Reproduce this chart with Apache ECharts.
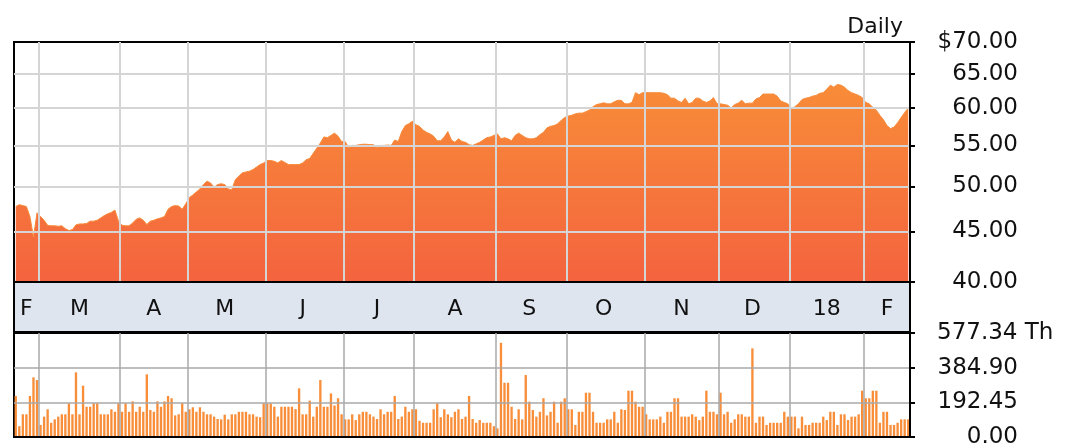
<!DOCTYPE html>
<html><head><meta charset="utf-8">
<script src="https://cdn.jsdelivr.net/npm/echarts@6/dist/echarts.min.js"></script>
<style>html,body{margin:0;padding:0;background:#fff}#c{width:1065px;height:448px}</style>
</head><body><div id="c"></div>
<script>
// ---- data ----
const monthLabels = ['F','M','A','M','J','J','A','S','O','N','D','18','F'];
const monthDays = [7,23,19,22,22,20,23,20,22,21,20,21,13];
const priceTicks = [40,45,50,55,60,65,70];
const volumeTicks = [0,192.45,384.90];
const volumeTickLabels = ['0.00','192.45','384.90'];
const volumeMax = 577.34;
const volumeMaxLabel = '577.34 Th';
const prices = [
47.7,47.9,47.8,47.7,46.6,44.4,47.0,46.6,46.2,45.65,
45.6,45.6,45.55,45.6,45.3,45.1,45.2,45.7,45.8,45.8,
45.85,46.1,46.1,46.2,46.45,46.7,46.9,47.05,47.3,46.1,
45.65,45.6,45.6,45.9,46.3,46.45,46.2,45.75,46.1,46.2,
46.35,46.45,46.6,47.4,47.7,47.8,47.75,47.4,48.0,48.7,
49.0,49.35,49.7,50.2,50.6,50.4,49.9,50.2,50.3,50.2,
49.7,49.6,50.8,51.2,51.6,51.7,51.8,52.0,52.3,52.6,
52.8,53.1,53.1,53.0,52.8,53.1,52.85,52.6,52.6,52.6,
52.6,52.8,53.2,53.35,54.0,54.65,55.3,56.1,56.0,56.3,
56.6,56.2,55.5,55.5,54.7,55.0,55.0,55.1,55.15,55.15,
55.1,55.1,54.7,55.0,55.0,55.05,55.0,55.7,55.5,56.8,
57.6,57.85,58.2,57.7,57.5,57.0,56.7,56.5,56.2,55.6,
55.6,56.1,56.8,55.7,55.4,55.85,55.5,55.4,55.1,55.0,
55.2,55.4,55.7,56.0,56.1,56.3,56.5,55.85,56.0,55.85,
55.6,56.3,56.6,56.3,56.0,55.85,55.85,56.0,56.4,56.7,
57.3,57.5,57.6,57.85,58.3,58.7,58.9,59.0,59.2,59.3,
59.3,59.5,59.75,60.2,60.5,60.6,60.75,60.6,60.6,60.9,
61.1,61.1,60.6,60.6,60.8,62.2,61.9,62.2,62.2,62.2,
62.2,62.2,62.2,62.1,61.9,61.4,61.4,61.0,60.8,61.4,
60.6,60.8,61.4,61.4,61.0,60.8,61.0,61.5,60.6,60.6,
60.5,60.4,60.0,60.5,60.7,61.1,60.6,60.7,60.7,61.3,
61.5,62.0,62.0,62.0,62.0,61.7,61.0,60.8,60.6,59.9,
60.2,60.6,61.2,61.4,61.5,61.7,61.8,62.1,62.2,62.7,
63.3,63.0,63.4,63.3,63.0,62.5,62.2,62.0,61.8,61.5,
60.8,60.6,60.1,59.7,59.0,58.4,57.6,57.2,57.4,58.0,
58.7,59.4,60.0
];
const volumes = [
228,60,126,126,228,331,316,67,113,154,
79,98,113,126,126,187,126,359,126,285,
168,168,187,187,126,126,126,154,140,187,
140,187,140,198,140,168,140,348,150,140,
198,168,198,228,215,120,126,187,140,154,
165,140,165,140,126,126,113,100,98,124,
98,126,126,140,140,140,126,126,113,110,
187,187,187,168,113,168,168,168,168,155,
270,126,126,202,113,168,316,168,168,242,
175,215,126,98,98,126,
94,126,140,140,126,113,100,154,126,140,
140,228,100,113,168,140,154,154,90,79,
79,79,154,187,110,154,126,110,140,154,
100,113,228,100,79,94,79,79,79,60,
48,523,301,301,168,100,154,98,344,196,
150,113,140,215,120,140,196,79,196,215,
154,154,67,140,140,246,246,140,79,79,
79,98,98,140,79,154,150,257,257,196,
168,168,126,98,98,98,113,79,140,140,
215,215,113,113,113,126,113,94,113,
257,140,140,126,246,126,140,79,98,126,
126,113,113,492,79,113,113,67,79,79,
79,79,140,113,113,113,48,113,67,67,
79,79,79,113,94,140,140,67,126,126,
94,113,113,126,257,215,215,257,257,79,
140,140,67,67,79,98,98,98
];

// ---- derived categories ----
const days = [];
const monthStart = new Set();
const monthMid = {};
let idx = 0;
monthDays.forEach((n, m) => {
  monthStart.add(idx);
  monthMid[idx + Math.floor((n - 1) / 2)] = monthLabels[m];
  for (let k = 0; k < n; k++) days.push('d' + (idx + k));
  idx += n;
});

const FONT = 'DejaVu Sans';
const TXT = '#111';
const FS = 23;
const isStart = (i) => i > 0 && monthStart.has(i);
const lbl = (v, ticks, labels) => {
  let k = 0;
  ticks.forEach((t, j) => { if (Math.abs(t - v) < 1e-6) k = j; });
  return labels[k];
};

const chart = echarts.init(document.getElementById('c'), null, {renderer: 'canvas'});
chart.setOption({
  animation: false,
  title: {
    text: 'Daily', right: 157, top: 11,
    textStyle: {fontFamily: FONT, fontSize: 22, fontWeight: 'normal', color: TXT}
  },
  grid: [
    {left: 14, top: 42, width: 896, height: 240, show: true, borderColor: '#000', borderWidth: 2, backgroundColor: '#fff', outerBoundsMode: 'none'},
    {left: 14, top: 282, width: 896, height: 50, show: true, borderColor: '#000', borderWidth: 2, backgroundColor: '#dfe5ef', outerBoundsMode: 'none'},
    {left: 14, top: 333, width: 896, height: 104, show: true, borderColor: '#000', borderWidth: 2, backgroundColor: '#fff', outerBoundsMode: 'none'}
  ],
  xAxis: [
    {type: 'category', gridIndex: 0, data: days, boundaryGap: true, z: 5,
     axisLine: {show: true, lineStyle: {color: '#000', width: 2}}, axisTick: {show: false}, axisLabel: {show: false},
     splitLine: {show: true, interval: isStart, lineStyle: {color: '#d5d5d5', width: 2}}},
    {type: 'category', gridIndex: 1, data: days, boundaryGap: true, position: 'top', z: 5,
     axisLine: {show: true, lineStyle: {color: '#000', width: 2}}, axisTick: {show: false}, splitLine: {show: false},
     axisLabel: {show: true, inside: true, interval: (i) => (i in monthMid), formatter: (v, i) => monthMid[i],
       margin: 27, verticalAlign: 'middle', fontFamily: FONT, fontSize: 22, color: TXT}},
    {type: 'category', gridIndex: 2, data: days, boundaryGap: true, z: 5,
     axisLine: {show: true, lineStyle: {color: '#000', width: 2}}, axisTick: {show: false}, axisLabel: {show: false},
     splitLine: {show: true, interval: isStart, lineStyle: {color: '#a9a9a9', width: 1.5}}}
  ],
  yAxis: [
    {type: 'log', gridIndex: 0, logBase: 10, min: 40, max: 70, position: 'right', z: 5,
     axisLine: {show: true, lineStyle: {color: '#000', width: 2}},
     axisTick: {show: true, customValues: priceTicks, length: 5, lineStyle: {color: '#000', width: 2}},
     axisLabel: {customValues: priceTicks, align: 'right', margin: 108, fontFamily: FONT, fontSize: FS, color: TXT,
       formatter: (v) => (Math.abs(v - 70) < 1e-6 ? '$' : '') + Number(v).toFixed(2)},
     splitLine: {show: true, showMinLine: false, showMaxLine: false, lineStyle: {color: '#d5d5d5', width: 2}}},
    {type: 'value', gridIndex: 1, show: false, min: 0, max: 1, splitLine: {show: false}},
    {type: 'value', gridIndex: 2, min: 0, max: volumeMax, position: 'right', z: 5,
     axisLine: {show: true, lineStyle: {color: '#000', width: 2}},
     axisTick: {show: true, customValues: volumeTicks.concat([volumeMax]), length: 5, lineStyle: {color: '#000', width: 2}},
     axisLabel: {customValues: volumeTicks, align: 'right', margin: 108, fontFamily: FONT, fontSize: FS, color: TXT,
       formatter: (v) => lbl(v, volumeTicks, volumeTickLabels)},
     splitLine: {show: true, showMinLine: false, showMaxLine: false, lineStyle: {color: '#a9a9a9', width: 1.5}}},
    {type: 'value', gridIndex: 2, min: 0, max: volumeMax, position: 'right',
     axisLine: {show: false}, axisTick: {show: false}, splitLine: {show: false},
     axisLabel: {customValues: [volumeMax], align: 'left', margin: 27, fontFamily: FONT, fontSize: FS, color: TXT,
       formatter: () => volumeMaxLabel}}
  ],
  series: [
    {type: 'line', xAxisIndex: 0, yAxisIndex: 0, data: prices, showSymbol: false, symbol: 'none',
     lineStyle: {width: 1, color: '#f78b39'},
     areaStyle: {origin: 'start', opacity: 1,
       color: new echarts.graphic.LinearGradient(0, 0, 0, 1, [{offset: 0, color: '#f88c38'}, {offset: 1, color: '#f4633f'}])}},
    {type: 'bar', xAxisIndex: 2, yAxisIndex: 2, data: volumes, barWidth: '66%',
     itemStyle: {color: '#f88e39'}}
  ]
});
</script>
</body></html>
